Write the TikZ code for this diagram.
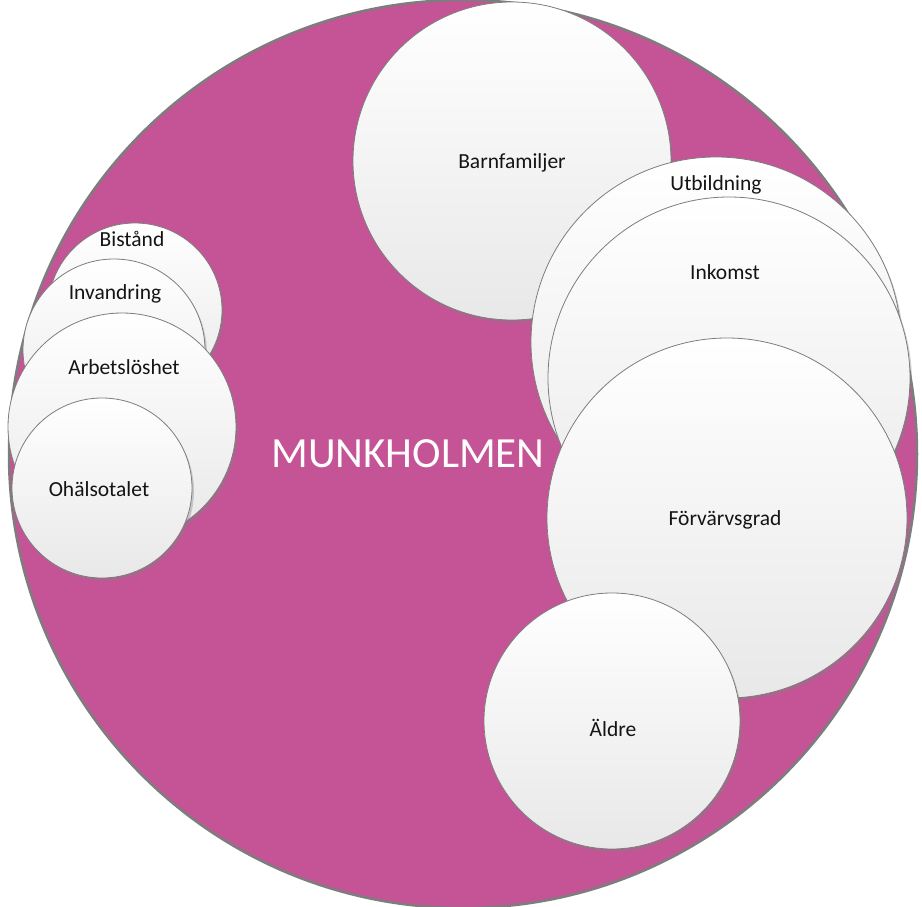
\documentclass[tikz,border=0pt]{standalone}
\usepackage{fontspec}
\setmainfont{Carlito}
\usepackage{tikz}
\usetikzlibrary{shadows}
\definecolor{berry}{RGB}{197,84,151}
\definecolor{rim}{RGB}{125,125,125}

\begin{document}
\begin{tikzpicture}[
	x=1pt, y=-1pt,
  bubble/.style = {circle,draw=rim,line width=0.8pt,inner sep=0pt,top color=white,bottom color=black!9,
    drop shadow={shadow xshift=2pt,shadow yshift=-3pt,opacity=0.35}},
  tag/.style = {font=\fontsize{21.5}{25}\selectfont,text=black!92,inner sep=1pt}
  ]
	\useasboundingbox (0,0) rectangle (922,907);

	\coordinate (@island) at (463,454);
	\coordinate (@barn) at (512,161);
	\coordinate (@bist) at (135,310);
	\coordinate (@inv) at (114,350);
	\coordinate (@arb) at (122,427);
	\coordinate (@ohal) at (102,488);
	\coordinate (@utb) at (716,342);
	\coordinate (@ink) at (729,378);
	\coordinate (@forv) at (727,518);
	\coordinate (@aldre) at (612,721);

	\node[circle,draw=rim,line width=2.5pt,fill=berry,inner sep=0pt,minimum size=908pt] (island) at (@island) {};
	\node[text=white,font=\fontsize{43}{48}\selectfont] (island-t) at (408,454) {MUNKHOLMEN};

	% left group
	\node[bubble,minimum size=174pt] (bist) at (@bist) {};
	\node[tag] (bist-t) at (132,239) {Bistånd};
	\node[bubble,minimum size=182pt] (inv) at (@inv) {};
	\node[tag] (inv-t) at (115,294) {Invandring};
	\node[bubble,minimum size=228pt] (arb) at (@arb) {};
	\node[tag] (arb-t) at (124,367) {Arbetslöshet};
	\node[bubble,minimum size=180pt] (ohal) at (@ohal) {};
	\node[tag] (ohal-t) at (99,489) {Ohälsotalet};

	% right group
	\node[bubble,minimum size=318pt] (barn) at (@barn) {};
	\node[tag] (barn-t) at (512,163) {Barnfamiljer};
	\node[bubble,minimum size=370pt] (utb) at (@utb) {};
	\node[tag] (utb-t) at (716,185) {Utbildning};
	\node[bubble,minimum size=362pt] (ink) at (@ink) {};
	\node[tag] (ink-t) at (725,272) {Inkomst};
	\node[bubble,minimum size=360pt] (forv) at (@forv) {};
	\node[tag] (forv-t) at (725,520) {Förvärvsgrad};
	\node[bubble,minimum size=256pt] (aldre) at (@aldre) {};
	\node[tag] (aldre-t) at (613,728) {Äldre};

\end{tikzpicture}
\end{document}
